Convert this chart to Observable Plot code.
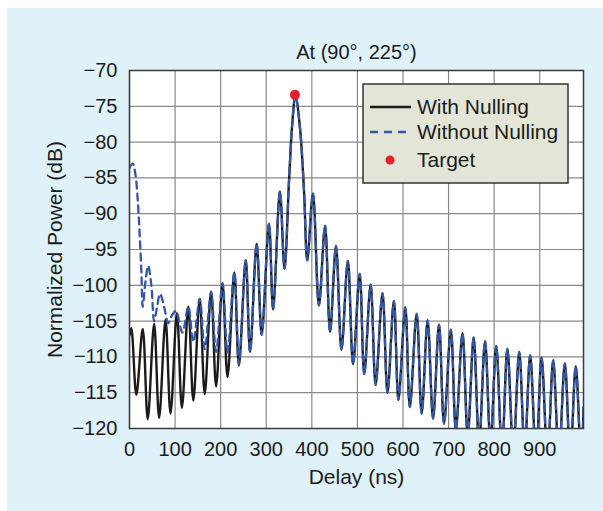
<!DOCTYPE html>
<html>
<head>
<meta charset="utf-8">
<script src="https://cdn.jsdelivr.net/npm/d3@7"></script>
<script src="https://cdn.jsdelivr.net/npm/@observablehq/plot@0.6"></script>
<style>
  html, body { margin: 0; padding: 0; background: #ffffff; }
  #panel { position: absolute; left: 7px; top: 8px; right: 0; bottom: 0; background: #dff1f9; }
  #chart { position: absolute; left: 0; top: 0; }
</style>
</head>
<body>
<div id="panel"></div>
<div id="chart"></div>
<script>
// Text
const title = "At (90°, 225°)";
const xLabel = "Delay (ns)";
const yLabel = "Normalized Power (dB)";

// Axis ticks
const xTicks = [0, 100, 200, 300, 400, 500, 600, 700, 800, 900];
const yTicks = [-70, -75, -80, -85, -90, -95, -100, -105, -110, -115, -120];

// Series names for the legend
const seriesNames = ["With Nulling", "Without Nulling", "Target"];

// Power delay profile with nulling: [delay ns, power dB] at lobe peaks and nulls
const withNulling = [
  [0, -107.0], [4, -106.0], [15, -115.3], [29, -106.1], [40, -118.7], [54, -105.4],
  [65, -118.5], [79, -104.8], [90, -117.9], [104, -103.9], [115, -117.1], [129, -103.0],
  [140, -116.1], [154, -101.9], [165, -115.2], [179, -100.9], [190, -114.1], [204, -99.7],
  [215, -112.8], [230, -98.2], [240, -111.2], [255, -96.5], [264.5, -109.3], [279, -94.2],
  [290, -106.9], [306, -91.4], [315, -103.4], [330, -86.9], [340, -97.7],
  [350, -85.4], [357, -77.5], [364, -73.5], [374, -78.0], [383, -87.0],
  [390, -96.5], [402.5, -87.2], [415.5, -102.8], [429, -91.7], [440, -106.5], [453, -94.5],
  [465, -109.0], [479, -96.6], [490.5, -111.0], [505, -98.4], [515, -112.4], [529, -99.9],
  [540, -113.9], [555, -101.1], [566, -115.0], [580, -102.2], [590, -116.0], [605, -103.1],
  [615, -117.0], [630, -104.0], [641, -117.9], [654, -104.9], [666, -118.6], [679, -105.5],
  [690, -119.3], [705, -106.2], [716, -120.2], [730.5, -106.7], [742, -121.0], [755, -107.3],
  [767, -122.0], [780, -107.8], [792, -122.0], [804.5, -108.5], [817, -123.0], [829, -108.9],
  [842, -123.0], [855, -109.3], [867, -123.0], [879, -109.8], [892, -124.0], [904, -110.1],
  [917, -124.0], [929.5, -110.5], [942, -124.0], [955, -110.9], [967, -124.0], [979, -111.3],
  [991, -125.0], [996, -117.0]
];

// Early part of the profile without nulling (strong direct-path leakage near 0 ns)
const withoutNullingEarly = [
  [0, -83.6], [7, -83.0], [13, -84.5], [18, -88.0], [22, -92.5], [26, -98.0],
  [29, -103.0], [35, -99.5], [41, -97.3], [48, -100.0], [54, -105.0], [60, -103.2],
  [67, -101.2], [76, -103.0], [85, -105.3], [93, -104.2], [102, -103.6], [116, -106.6],
  [129, -103.0], [140, -107.9], [154, -101.9], [165, -108.9], [179, -100.9], [190, -109.3],
  [204, -99.7], [215, -109.4], [230, -98.2], [240, -111.0]
];
// Beyond 250 ns both profiles coincide
const withoutNulling = withoutNullingEarly.concat(withNulling.filter(d => d[0] > 250));

// Target return
const target = [[363, -73.4]];

const colors = { with: "#1b1b1b", without: "#3457a8", target: "#e8202a" };
const fmt = d => (d < 0 ? "\u2212" + Math.abs(d) : String(d));
const font = "'Liberation Sans', Arial, Helvetica, sans-serif";

const chart = Plot.plot({
  width: 603,
  height: 511,
  marginLeft: 129,
  marginRight: 20,
  marginTop: 70,
  marginBottom: 83,
  style: { background: "transparent", fontFamily: font, fontSize: "20px", color: "#1b1b1b", overflow: "visible" },
  x: { domain: [0, 996] },
  y: { domain: [-120, -70] },
  marks: [
    Plot.frame({ fill: "#ffffff" }),
    Plot.gridX(xTicks, { stroke: "#8a8a8a", strokeOpacity: 1, strokeWidth: 1.2 }),
    Plot.gridY(yTicks, { stroke: "#8a8a8a", strokeOpacity: 1, strokeWidth: 1.2 }),
    Plot.line(withNulling, {
      x: d => d[0], y: d => d[1], stroke: colors.with, strokeWidth: 2.4,
      curve: "catmull-rom", clip: true
    }),
    Plot.line(withoutNulling, {
      x: d => d[0], y: d => d[1], stroke: colors.without, strokeWidth: 2.3,
      strokeDasharray: "7,5", curve: "catmull-rom", clip: true
    }),
    Plot.dot(target, { x: d => d[0], y: d => d[1], r: 5, fill: colors.target, stroke: "none" }),
    Plot.frame({ stroke: "#3a3a3a", strokeWidth: 1.5 }),
    Plot.axisX(xTicks, { tickSize: 0, tickPadding: 13, tickFormat: fmt, fontSize: 20, label: null }),
    Plot.axisY(yTicks, { tickSize: 0, tickPadding: 12, tickFormat: fmt, fontSize: 20, label: null }),
    Plot.text([xLabel], { frameAnchor: "bottom", dy: 55, fontSize: 21, fill: "#1b1b1b" }),
    Plot.text([yLabel], { frameAnchor: "left", textAnchor: "middle", dx: -74, rotate: -90, fontSize: 21, fill: "#1b1b1b" }),
    Plot.text([title], { frameAnchor: "top", dy: -26, fontSize: 20, fill: "#1b1b1b" })
  ]
});

document.getElementById("chart").appendChild(chart);

// Legend box in the upper right of the plotting area
const svg = d3.select(chart);
const lg = svg.append("g").attr("transform", "translate(363,84)")
  .style("font-family", font).attr("text-anchor", "start");
lg.append("rect").attr("width", 205).attr("height", 99)
  .attr("fill", "#e3e6d6").attr("stroke", "#333333").attr("stroke-width", 1.5);
const rows = [
  { name: seriesNames[0], y: 23, kind: "line", color: colors.with, dash: null },
  { name: seriesNames[1], y: 48, kind: "line", color: colors.without, dash: "8,6" },
  { name: seriesNames[2], y: 76, kind: "dot", color: colors.target }
];
rows.forEach(r => {
  if (r.kind === "line") {
    const ln = lg.append("line").attr("x1", 7).attr("x2", 48).attr("y1", r.y).attr("y2", r.y)
      .attr("stroke", r.color).attr("stroke-width", 2.3);
    if (r.dash) ln.attr("stroke-dasharray", r.dash);
  } else {
    lg.append("circle").attr("cx", 27).attr("cy", r.y).attr("r", 4.5).attr("fill", r.color);
  }
  lg.append("text").attr("x", 54).attr("y", r.y).attr("dy", "0.35em")
    .attr("text-anchor", "start").attr("font-size", 21).attr("fill", "#1b1b1b").text(r.name);
});
</script>
</body>
</html>
